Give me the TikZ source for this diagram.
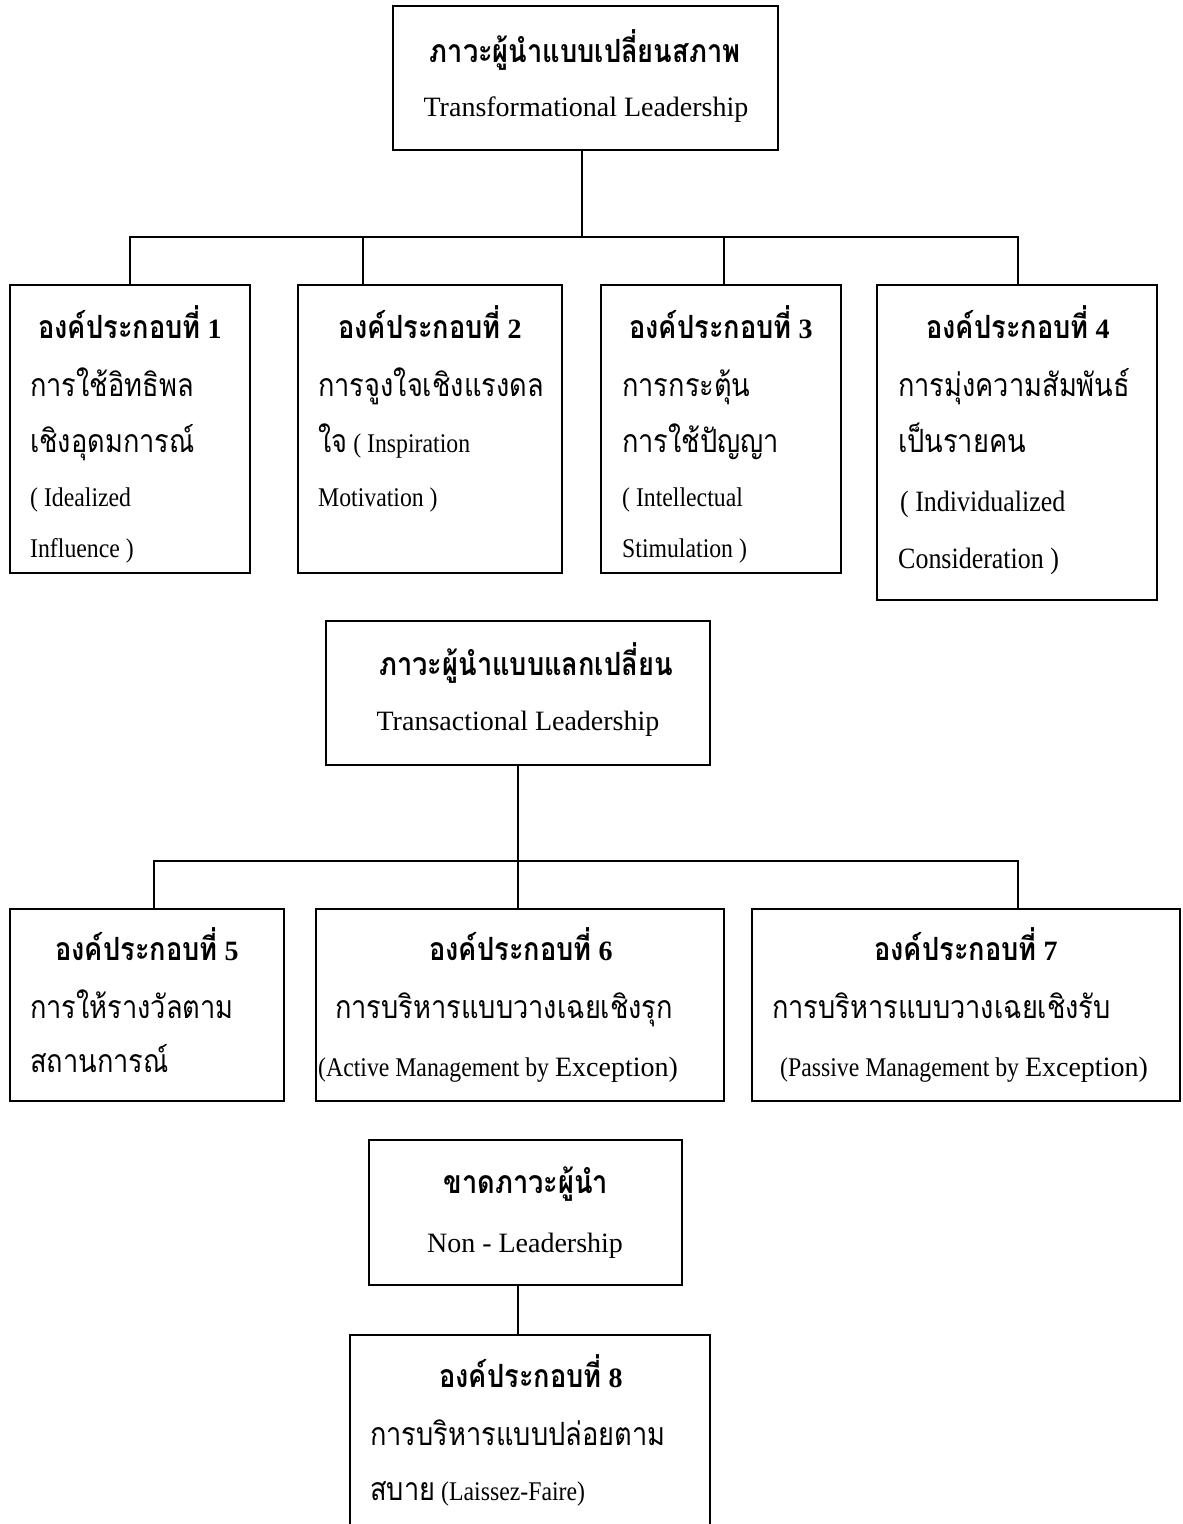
\documentclass[tikz,border=0pt]{standalone}
\usepackage{fontspec}
\setmainfont{Liberation Serif}
\newfontfamily\thaifont[Script=Thai, FakeStretch=0.85]{Loma}
\newfontfamily\narrowfont[FakeStretch=0.88]{Liberation Serif}
% text segments: Thai regular / bold, narrow Latin, regular Latin, bold Latin
\newcommand\ThaiR[1]{{\thaifont\fontsize{32}{32}\selectfont #1}}
\newcommand\ThaiB[1]{{\thaifont\bfseries\fontsize{32}{32}\selectfont #1}}
\newcommand\LatN[1]{{\narrowfont\fontsize{27}{27}\selectfont #1}}
\newcommand\LatM[1]{{\narrowfont\fontsize{29.5}{29.5}\selectfont #1}}
\newcommand\LatR[1]{{\fontsize{28}{28}\selectfont #1}}
\newcommand\LatB[1]{{\bfseries\fontsize{28}{28}\selectfont #1}}
\newcommand\Part[1]{\ThaiB{องค์ประกอบที่}\LatB{ #1}}
\tikzset{
  frame/.style={draw=black, line width=2.6pt, rectangle, inner sep=0pt},
  link/.style={draw=black, line width=2.6pt},
  head/.style={anchor=base, inner sep=0pt},
  row/.style={anchor=base west, inner sep=0pt},
}
\begin{document}
\begin{tikzpicture}[x=1pt, y=-1pt]
\useasboundingbox (0,0) rectangle (1183,1524);

% ---- frames ----
\node[frame, minimum width=385, minimum height=144] (T0) at (585.5,78) {};
\node[frame, minimum width=240, minimum height=288] (C1) at (130,429) {};
\node[frame, minimum width=264, minimum height=288] (C2) at (430,429) {};
\node[frame, minimum width=240, minimum height=288] (C3) at (721,429) {};
\node[frame, minimum width=280, minimum height=315] (C4) at (1017,442.5) {};
\node[frame, minimum width=384, minimum height=144] (T1) at (518,693) {};
\node[frame, minimum width=274, minimum height=192] (C5) at (147,1005) {};
\node[frame, minimum width=408, minimum height=192] (C6) at (520,1005) {};
\node[frame, minimum width=428, minimum height=192] (C7) at (966,1005) {};
\node[frame, minimum width=313, minimum height=145] (T2) at (525.5,1212.5) {};
\begin{scope}
  \clip (0,0) rectangle (1183,1524);
  \node[frame, minimum width=360, minimum height=265] (C8) at (530,1467.5) {};
\end{scope}

% ---- connectors ----
\coordinate (a0) at (582,237);
\coordinate (a1) at (130,237);
\coordinate (a2) at (363,237);
\coordinate (a3) at (724,237);
\coordinate (a4) at (1018,237);
\draw[link] (T0.south -| a0) -- (a0);
\draw[link] (C1.north -| a1) -- (a1) -- (a4) -- (C4.north -| a4);
\draw[link] (a2) -- (C2.north -| a2);
\draw[link] (a3) -- (C3.north -| a3);

\coordinate (b0) at (518,861);
\coordinate (b1) at (154,861);
\coordinate (b3) at (1018,861);
\draw[link] (T1.south -| b0) -- (C6.north -| b0);
\draw[link] (C5.north -| b1) -- (b1) -- (b3) -- (C7.north -| b3);

\coordinate (c0) at (518,1300);
\draw[link] (T2.south -| c0) -- (C8.north -| c0);

% ---- texts ----
\node[head] (t0a) at (585,62) {\ThaiB{ภาวะผู้นำแบบเปลี่ยนสภาพ}};
\node[head] (t0b) at (586,116) {\LatR{Transformational Leadership}};

\node[head] (c1a) at (130,338) {\Part{1}};
\node[row] (c1b) at (30,396) {\ThaiR{การใช้อิทธิพล}};
\node[row] (c1c) at (30,452) {\ThaiR{เชิงอุดมการณ์}};
\node[row] (c1d) at (30,506) {\LatN{( Idealized}};
\node[row] (c1e) at (30,557) {\LatN{Influence )}};

\node[head] (c2a) at (430,338) {\Part{2}};
\node[row] (c2b) at (318,396) {\ThaiR{การจูงใจเชิงแรงดล}};
\node[row] (c2c) at (318,452) {\ThaiR{ใจ}\LatN{ ( Inspiration}};
\node[row] (c2d) at (318,506) {\LatN{Motivation )}};

\node[head] (c3a) at (721,338) {\Part{3}};
\node[row] (c3b) at (622,396) {\ThaiR{การกระตุ้น}};
\node[row] (c3c) at (622,452) {\ThaiR{การใช้ปัญญา}};
\node[row] (c3d) at (622,506) {\LatN{( Intellectual}};
\node[row] (c3e) at (622,557) {\LatN{Stimulation )}};

\node[head] (c4a) at (1018,338) {\Part{4}};
\node[row] (c4b) at (898,396) {\ThaiR{การมุ่งความสัมพันธ์}};
\node[row] (c4c) at (898,452) {\ThaiR{เป็นรายคน}};
\node[row] (c4d) at (900,511) {\LatM{( Individualized}};
\node[row] (c4e) at (898,568) {\LatM{Consideration )}};

\node[head] (t1a) at (526,675) {\ThaiB{ภาวะผู้นำแบบแลกเปลี่ยน}};
\node[head] (t1b) at (518,730) {\LatR{Transactional Leadership}};

\node[head] (c5a) at (147,960) {\Part{5}};
\node[row] (c5b) at (30,1018) {\ThaiR{การให้รางวัลตาม}};
\node[row] (c5c) at (30,1072) {\ThaiR{สถานการณ์}};

\node[head] (c6a) at (521,960) {\Part{6}};
\node[row] (c6b) at (335,1018) {\ThaiR{การบริหารแบบวางเฉยเชิงรุก}};
\node[row] (c6c) at (318,1076) {\LatN{(Active Management by }\LatR{Exception)}};

\node[head] (c7a) at (966,960) {\Part{7}};
\node[row] (c7b) at (772,1018) {\ThaiR{การบริหารแบบวางเฉยเชิงรับ}};
\node[row] (c7c) at (780,1076) {\LatN{(Passive Management by }\LatR{Exception)}};

\node[head] (t2a) at (526,1193) {\ThaiB{ขาดภาวะผู้นำ}};
\node[head] (t2b) at (525,1252) {\LatR{Non - Leadership}};

\node[head] (c8a) at (531,1387) {\Part{8}};
\node[row] (c8b) at (370,1445) {\ThaiR{การบริหารแบบปล่อยตาม}};
\node[row] (c8c) at (370,1500) {\ThaiR{สบาย}\LatN{ (Laissez-Faire)}};
\end{tikzpicture}
\end{document}
